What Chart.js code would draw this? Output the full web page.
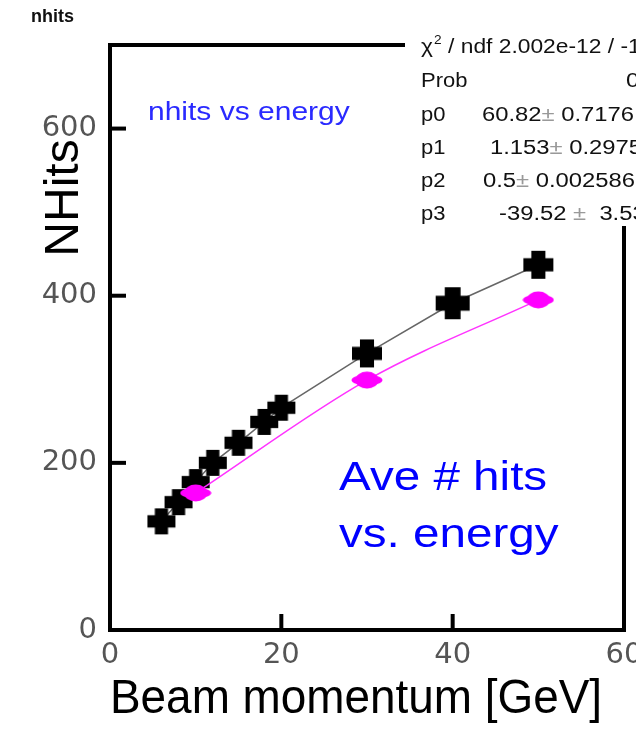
<!DOCTYPE html>
<html lang="en">
<head>
    <meta charset="UTF-8">
    <title>nhits</title>
    <script src="https://cdn.jsdelivr.net/npm/chart.js"></script>
    <style>
        body { margin: 0; background: #fff; }
        #wrap { width: 636px; height: 729px; }
    </style>
</head>
<body>
    <div id="wrap"><canvas id="nhitsChart" width="636" height="729"></canvas></div>

    <script>
        // beam momentum [GeV] and average number of hits
        const energies = [6, 8, 10, 12, 15, 18, 20, 30, 40, 50];
        const nhits = [130, 153, 177, 200, 224, 249, 266, 331, 391, 437];
        const pinkEnergies = [10, 30, 50];
        const pinkHits = [164, 299, 395];
        const xTicks = [0, 20, 40, 60];
        const yTicks = [0, 200, 400, 600];

        // fit box contents
        const fitNames = ['p0', 'p1', 'p2', 'p3'];
        const fitValues = ['60.82', '1.153', '0.5', '-39.52 '];
        const fitErrors = ['0.7176', '0.2975', '0.002586', ' 3.53'];

        function crossMarker(w, h) {
            const c = document.createElement('canvas');
            c.width = w; c.height = h;
            const g = c.getContext('2d');
            g.fillStyle = '#000';
            const tw = w * 0.44, th = h * 0.44;
            g.fillRect((w - tw) / 2, 1, tw, h - 2);
            g.fillRect(1, (h - th) / 2, w - 2, th);
            g.beginPath();
            g.moveTo(w / 2, h * 0.12);
            g.lineTo(w * 0.88, h / 2);
            g.lineTo(w / 2, h * 0.88);
            g.lineTo(w * 0.12, h / 2);
            g.closePath();
            g.fill();
            return c;
        }

        function blobMarker(w, h) {
            const c = document.createElement('canvas');
            c.width = w; c.height = h;
            const g = c.getContext('2d');
            g.fillStyle = '#ff00ff';
            g.beginPath();
            g.ellipse(w / 2, h / 2, w * 0.36, h / 2 - 0.5, 0, 0, Math.PI * 2);
            g.fill();
            g.beginPath();
            g.ellipse(w / 2, h / 2, w / 2 - 0.5, h * 0.3, 0, 0, Math.PI * 2);
            g.fill();
            return c;
        }

        const crossSizes = [30, 30, 30, 30, 30, 30, 30, 32, 36, 32];
        const blackStyles = crossSizes.map(s => crossMarker(s, s - 2));
        const pinkStyle = blobMarker(32, 18);

        function stretchText(ctx, parts, x, y, sx) {
            ctx.save();
            ctx.translate(x, y);
            ctx.scale(sx, 1);
            let cx = 0;
            for (const [txt, color] of parts) {
                ctx.fillStyle = color;
                ctx.fillText(txt, cx, 0);
                cx += ctx.measureText(txt).width;
            }
            ctx.restore();
        }

        const framePlugin = {
            id: 'frame',
            beforeDatasetsDraw(chart) {
                const {ctx, chartArea: a, scales: {x, y}} = chart;
                ctx.save();
                ctx.strokeStyle = '#000';
                ctx.lineWidth = 4;
                ctx.beginPath();
                ctx.moveTo(a.left - 2, a.top);
                ctx.lineTo(a.right, a.top);
                ctx.lineTo(a.right, a.bottom + 2);
                ctx.stroke();
                // inward tick marks
                yTicks.slice(1).forEach(v => {
                    const py = y.getPixelForValue(v);
                    ctx.beginPath(); ctx.moveTo(a.left, py); ctx.lineTo(a.left + 16, py); ctx.stroke();
                });
                xTicks.slice(1, -1).forEach(v => {
                    const px = x.getPixelForValue(v);
                    ctx.beginPath(); ctx.moveTo(px, a.bottom); ctx.lineTo(px, a.bottom - 16); ctx.stroke();
                });
                ctx.restore();
            },
            afterDraw(chart) {
                const {ctx} = chart;
                ctx.save();
                ctx.textBaseline = 'middle';

                // histogram name
                ctx.font = 'bold 18px "Liberation Sans", Arial, sans-serif';
                ctx.fillStyle = '#111';
                ctx.fillText('nhits', 31, 17);

                // y axis title
                ctx.save();
                ctx.translate(65, 198);
                ctx.rotate(-Math.PI / 2);
                ctx.textAlign = 'center';
                ctx.font = '48px "Liberation Sans", Arial, sans-serif';
                ctx.fillStyle = '#000';
                ctx.fillText('NHits', 0, 0);
                ctx.restore();

                ctx.font = '25px "Liberation Sans", Arial, sans-serif';
                stretchText(ctx, [['nhits vs energy', '#2a2aff']], 148, 113, 1.2);

                ctx.font = '40px "Liberation Sans", Arial, sans-serif';
                stretchText(ctx, [['Ave # hits', '#0000ff']], 339, 479, 1.19);
                stretchText(ctx, [['vs. energy', '#0000ff']], 339, 536, 1.19);

                // fit statistics box
                ctx.fillStyle = '#fff';
                ctx.fillRect(405, 28, 240, 198);
                const big = '20px "Liberation Sans", Arial, sans-serif';
                ctx.font = big;
                const dark = '#111', pm = '#999';
                ctx.save();
                ctx.translate(421, 47);
                ctx.scale(1.14, 1);
                ctx.fillStyle = dark;
                ctx.fillText('\u03c7', 0, 0);
                let w = ctx.measureText('\u03c7').width;
                ctx.font = '12px "Liberation Sans", Arial, sans-serif';
                ctx.fillText('2', w + 1, -6);
                w += ctx.measureText('2').width + 1;
                ctx.font = big;
                ctx.fillText(' / ndf 2.002e-12 / -1', w, 0);
                ctx.restore();

                stretchText(ctx, [['Prob', dark]], 421, 81, 1.1);
                stretchText(ctx, [['0', dark]], 626, 81, 1.2);
                const valueX = [482, 490, 483, 499];
                fitNames.forEach((n, i) => {
                    const py = 115 + i * 33;
                    stretchText(ctx, [[n, dark]], 421, py, 1.1);
                    stretchText(ctx, [[fitValues[i], dark], ['\u00b1', pm], [' ' + fitErrors[i], dark]], valueX[i], py, 1.19);
                });
                ctx.restore();
            }
        };

        new Chart(document.getElementById('nhitsChart'), {
            type: 'scatter',
            data: {
                datasets: [
                    {
                        label: 'fit',
                        data: pinkEnergies.map((e, i) => ({x: e, y: pinkHits[i]})),
                        showLine: true,
                        borderColor: '#ff33ff',
                        borderWidth: 1.5,
                        cubicInterpolationMode: 'monotone',
                        pointStyle: pinkStyle,
                        order: 0
                    },
                    {
                        label: 'nhits vs energy',
                        data: energies.map((e, i) => ({x: e, y: nhits[i]})),
                        showLine: true,
                        borderColor: '#666',
                        borderWidth: 1.5,
                        pointStyle: blackStyles,
                        order: 1
                    }
                ]
            },
            options: {
                responsive: false,
                animation: false,
                events: [],
                layout: { padding: { top: 45, right: 12, left: 0, bottom: 0 } },
                plugins: { legend: { display: false }, tooltip: { enabled: false } },
                scales: {
                    x: {
                        type: 'linear',
                        min: 0, max: 60,
                        afterBuildTicks: s => { s.ticks = xTicks.map(v => ({value: v})); },
                        afterFit: s => { s.height = 99; s.paddingLeft = 0; s.paddingRight = 0; },
                        grid: { display: false, drawTicks: false },
                        border: { display: true, color: '#000', width: 4 },
                        ticks: {
                            padding: 8,
                            color: '#555',
                            font: { family: '"DejaVu Sans", sans-serif', size: 29 }
                        },
                        title: {
                            display: true,
                            text: 'Beam momentum [GeV]\u00a0\u2009',
                            color: '#000',
                            padding: { top: 0, bottom: 0 },
                            font: { family: '"Liberation Sans", Arial, sans-serif', size: 48 }
                        }
                    },
                    y: {
                        type: 'linear',
                        min: 0, max: 700,
                        afterBuildTicks: s => { s.ticks = yTicks.map(v => ({value: v})); },
                        afterFit: s => { s.width = 110; s.paddingTop = 0; s.paddingBottom = 0; },
                        grid: { display: false, drawTicks: false },
                        border: { display: true, color: '#000', width: 4 },
                        ticks: {
                            padding: 13,
                            color: '#555',
                            font: { family: '"DejaVu Sans", sans-serif', size: 29 }
                        }
                    }
                }
            },
            plugins: [framePlugin]
        });
    </script>
</body>
</html>
